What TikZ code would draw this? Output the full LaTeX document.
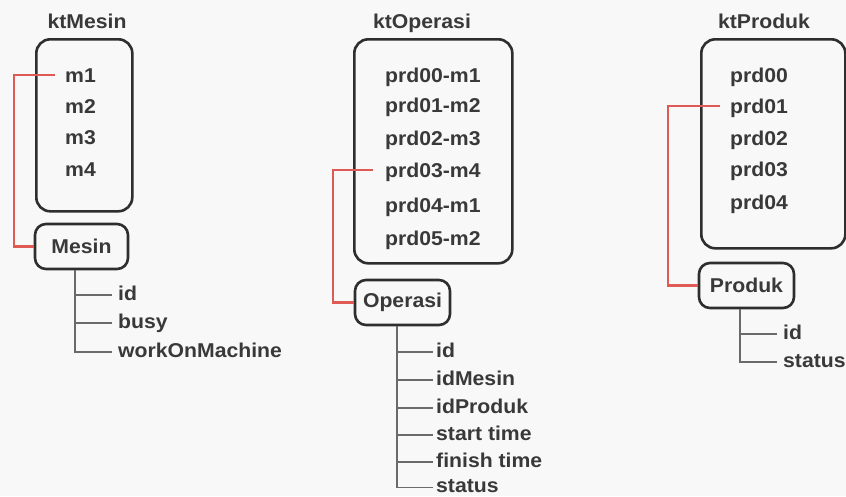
\documentclass[tikz,border=0pt]{standalone}
\usepackage{fontspec}
\setmainfont{Liberation Sans}[FakeStretch=1.06]
\definecolor{txt}{HTML}{393939}
\definecolor{boxc}{HTML}{2E2E2E}
\definecolor{redc}{HTML}{DD5A55}
\definecolor{treec}{HTML}{6A6A6A}
\definecolor{bg}{HTML}{F8F8F8}
\begin{document}
\begin{tikzpicture}[x=1pt,y=-1pt,
  every node/.style={font=\fontsize{20}{24}\selectfont\bfseries, text=txt},
  title/.style={anchor=base, inner sep=0pt},
  item/.style={anchor=base west, inner sep=0pt, text height=14pt, text depth=0pt},
  attr/.style={anchor=west, inner sep=0pt, text height=10pt, text depth=0pt},
  bigbox/.style={draw=boxc, line width=2.6pt, rounded corners=14pt, anchor=north west, inner sep=0pt},
  classbox/.style={draw=boxc, line width=2.6pt, rounded corners=11pt, inner sep=0pt, minimum height=45pt},
  link/.style={draw=redc, line width=2.6pt},
  branch/.style={draw=treec, line width=1.3pt}]
\fill[bg] (0,0) rectangle (846,496);
\useasboundingbox (0,0) rectangle (846,496);

% ---------- ktMesin ----------
\node[title] (tM) at (87,28) {ktMesin};
\node[bigbox, minimum width=96pt, minimum height=172pt] (ktM) at (35,38) {};
\node[item] (m1) at (65,82) {m1};
\node[item] (m2) at (65,113) {m2};
\node[item] (m3) at (65,144) {m3};
\node[item] (m4) at (65,176) {m4};
\node[classbox, minimum width=93pt] (mesin) at (81.5,246.5) {Mesin};
\draw[link] ([xshift=-10pt]m1.west) -- ++(-41,0) |- (mesin.west);
\coordinate (jM) at ([xshift=-6.5pt]mesin.south);
\node[attr] (aM1) at (118,295) {id};
\node[attr] (aM2) at (118,323) {busy};
\node[attr] (aM3) at (118,352) {workOnMachine};
\draw[branch] (jM) |- ([xshift=-6pt]aM3.west);
\draw[branch] (jM |- aM1.west) -- ([xshift=-6pt]aM1.west);
\draw[branch] (jM |- aM2.west) -- ([xshift=-6pt]aM2.west);

% ---------- ktOperasi ----------
\node[title] (tO) at (422,28) {ktOperasi};
\node[bigbox, minimum width=158pt, minimum height=224pt] (ktO) at (353,38) {};
\node[item] (o0) at (385,82) {prd00-m1};
\node[item] (o1) at (385,112) {prd01-m2};
\node[item] (o2) at (385,145) {prd02-m3};
\node[item] (o3) at (385,177) {prd03-m4};
\node[item] (o4) at (385,212) {prd04-m1};
\node[item] (o5) at (385,245) {prd05-m2};
\node[classbox, minimum width=95pt] (operasi) at (402.5,302.5) {Operasi};
\draw[link] ([xshift=-12pt]o3.west) -- ++(-40,0) |- (operasi.west);
\coordinate (jO) at ([xshift=-5.5pt]operasi.south);
\node[attr] (aO1) at (436,352) {id};
\node[attr] (aO2) at (436,380) {idMesin};
\node[attr] (aO3) at (436,408) {idProduk};
\node[attr] (aO4) at (436,435) {start time};
\node[attr] (aO5) at (436,462) {finish time};
\node[attr] (aO6) at (436,487.5) {status};
\draw[branch] (jO) |- ([xshift=-3pt]aO6.west);
\foreach \a in {aO1,aO2,aO3,aO4,aO5}
  \draw[branch] (jO |- \a.west) -- ([xshift=-3pt]\a.west);

% ---------- ktProduk ----------
\node[title] (tP) at (764,28) {ktProduk};
\node[bigbox, minimum width=144pt, minimum height=209pt] (ktP) at (700,38) {};
\node[item] (p0) at (730,82) {prd00};
\node[item] (p1) at (730,113) {prd01};
\node[item] (p2) at (730,145) {prd02};
\node[item] (p3) at (730,176) {prd03};
\node[item] (p4) at (730,209) {prd04};
\node[classbox, minimum width=95pt] (produk) at (746.5,285.5) {Produk};
\draw[link] ([xshift=-10pt]p1.west) -- ++(-52,0) |- (produk.west);
\coordinate (jP) at ([xshift=-6.5pt]produk.south);
\node[attr] (aP1) at (783,334) {id};
\node[attr] (aP2) at (783,362) {status};
\draw[branch] (jP) |- ([xshift=-6pt]aP2.west);
\draw[branch] (jP |- aP1.west) -- ([xshift=-6pt]aP1.west);
\end{tikzpicture}
\end{document}
